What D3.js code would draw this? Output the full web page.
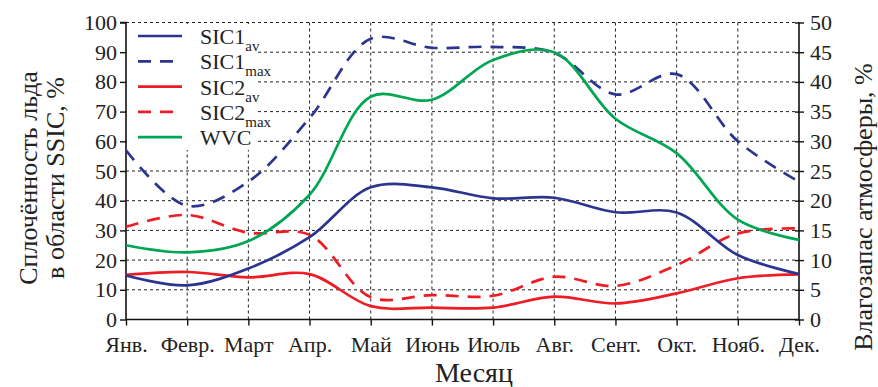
<!DOCTYPE html>
<html>
<head>
<meta charset="utf-8">
<script src="https://cdn.jsdelivr.net/npm/d3@7"></script>
<style>
  body { margin: 0; background: #fff; }
  svg { display: block; font-family: "Liberation Serif", "Times New Roman", serif; }
</style>
</head>
<body>
<div id="chart"></div>
<script>
const months  = ["Янв.", "Февр.", "Март", "Апр.", "Май", "Июнь", "Июль", "Авг.", "Сент.", "Окт.", "Нояб.", "Дек."];
const sic1Av  = [14.8, 11.5, 17.2, 27.7, 44.5, 44.5, 40.8, 41.0, 36.1, 36.0, 21.7, 15.3];
const sic1Max = [57.0, 38.3, 46.4, 67.8, 94.5, 91.5, 91.8, 89.8, 75.8, 82.6, 60.0, 46.4];
const sic2Av  = [15.0, 16.0, 14.2, 15.3, 4.5, 4.0, 4.0, 7.7, 5.4, 8.8, 13.9, 15.2];
const sic2Max = [31.2, 35.2, 29.2, 28.5, 7.5, 8.2, 8.0, 14.4, 11.3, 18.3, 29.0, 30.7];
const wvc     = [12.5, 11.3, 13.2, 21.0, 37.5, 37.0, 43.7, 45.0, 33.8, 28.0, 16.8, 13.4];
const leftTicks  = [0, 10, 20, 30, 40, 50, 60, 70, 80, 90, 100];
const rightTicks = [0, 5, 10, 15, 20, 25, 30, 35, 40, 45, 50];

const BLUE  = "#2b3590";
const RED   = "#ee1c25";
const GREEN = "#00a651";

const W = 878, H = 387;
const margin = { top: 22.5, right: 79, bottom: 67.5, left: 126 };
const width  = W - margin.left - margin.right;
const height = H - margin.top - margin.bottom;

const svg = d3.select("#chart").append("svg")
  .attr("width", W).attr("height", H);
const g = svg.append("g")
  .attr("transform", `translate(${margin.left},${margin.top})`);

const x  = d3.scalePoint().domain(months).range([0, width]).padding(0);
const yL = d3.scaleLinear().domain([0, 100]).range([height, 0]);
const yR = d3.scaleLinear().domain([0, 50]).range([height, 0]);

// grid
g.append("g").selectAll("line").data(leftTicks.filter(d => d > 0)).join("line")
  .attr("x1", 0).attr("x2", width)
  .attr("y1", d => yL(d)).attr("y2", d => yL(d))
  .attr("stroke", "#222").attr("stroke-width", 1).attr("stroke-dasharray", "3,3");
g.append("g").selectAll("line").data(months.slice(1, -1)).join("line")
  .attr("x1", d => x(d)).attr("x2", d => x(d))
  .attr("y1", 0).attr("y2", height)
  .attr("stroke", "#222").attr("stroke-width", 1).attr("stroke-dasharray", "3,3");

// legend backdrop hides grid
g.append("rect")
  .attr("x", 1).attr("y", 1.5).attr("width", 131).attr("height", 126)
  .attr("fill", "#fff");

// axes
const axL = g.append("g").call(d3.axisLeft(yL).tickValues(leftTicks).tickSize(6).tickPadding(3));
const axB = g.append("g").attr("transform", `translate(0,${height})`)
  .call(d3.axisBottom(x).tickSize(6).tickPadding(11));
const axR = g.append("g").attr("transform", `translate(${width},0)`)
  .call(d3.axisRight(yR).tickValues(rightTicks).tickSize(5).tickPadding(6));
axR.selectAll(".tick line").attr("x1", -4);
[axL, axB, axR].forEach(a => {
  a.select(".domain").attr("stroke", "#111").attr("stroke-width", 1.6);
  a.selectAll(".tick line").attr("stroke", "#111").attr("stroke-width", 1.4);
  a.selectAll("text").attr("font-family", "Liberation Serif").attr("font-size", 22).attr("fill", "#222");
});
axL.select(".domain").attr("d", `M-6,0H0V${height}`);
axR.select(".domain").attr("d", `M0,0V${height}`);
axB.select(".domain").attr("d", `M0,0H${width}`);

// series
const lineL = d3.line().x((d, i) => x(months[i])).y(d => yL(d)).curve(d3.curveCatmullRom.alpha(0.5));
const lineR = d3.line().x((d, i) => x(months[i])).y(d => yR(d)).curve(d3.curveCatmullRom.alpha(0.5));

const series = [
  { name: "SIC1", sub: "av",  data: sic1Av,  color: BLUE,  dash: null,   line: lineL },
  { name: "SIC1", sub: "max", data: sic1Max, color: BLUE,  dash: "13,9", line: lineL },
  { name: "SIC2", sub: "av",  data: sic2Av,  color: RED,   dash: null,   line: lineL },
  { name: "SIC2", sub: "max", data: sic2Max, color: RED,   dash: "13,9", line: lineL },
  { name: "WVC",  sub: "",    data: wvc,     color: GREEN, dash: null,   line: lineR }
];

// draw in the order the reference stacks them
[series[1], series[3], series[2], series[0], series[4]].forEach(s => {
  g.append("path")
    .datum(s.data)
    .attr("fill", "none")
    .attr("stroke", s.color)
    .attr("stroke-width", 2.7)
    .attr("stroke-dasharray", s.dash)
    .attr("d", s.line);
});

// legend
const leg = g.append("g").attr("transform", "translate(12,13.5)");
series.forEach((s, i) => {
  const row = leg.append("g").attr("transform", `translate(0,${i * 25.3})`);
  row.append("line")
    .attr("x1", 0).attr("x2", 44).attr("y1", 0).attr("y2", 0)
    .attr("stroke", s.color).attr("stroke-width", 2.7)
    .attr("stroke-dasharray", s.dash);
  const t = row.append("text")
    .attr("x", 62).attr("y", 8)
    .attr("font-size", 22).attr("fill", "#222");
  t.append("tspan").text(s.name);
  if (s.sub) t.append("tspan").attr("dy", 7).attr("font-size", 15).text(s.sub);
});

// axis titles
svg.append("text")
  .attr("x", 474).attr("y", 382)
  .attr("text-anchor", "middle").attr("font-size", 28).attr("fill", "#222")
  .text("Месяц");

const lt = svg.append("text")
  .attr("transform", "translate(0,178) rotate(-90)")
  .attr("text-anchor", "middle").attr("font-size", 26).attr("fill", "#222");
lt.append("tspan").attr("x", 0).attr("y", 37).text("Сплочённость льда");
lt.append("tspan").attr("x", 0).attr("y", 64).text("в области SSIC, %");

svg.append("text")
  .attr("transform", "translate(872,207) rotate(-90)")
  .attr("text-anchor", "middle").attr("font-size", 26).attr("fill", "#222")
  .text("Влагозапас атмосферы, %");
</script>
</body>
</html>
